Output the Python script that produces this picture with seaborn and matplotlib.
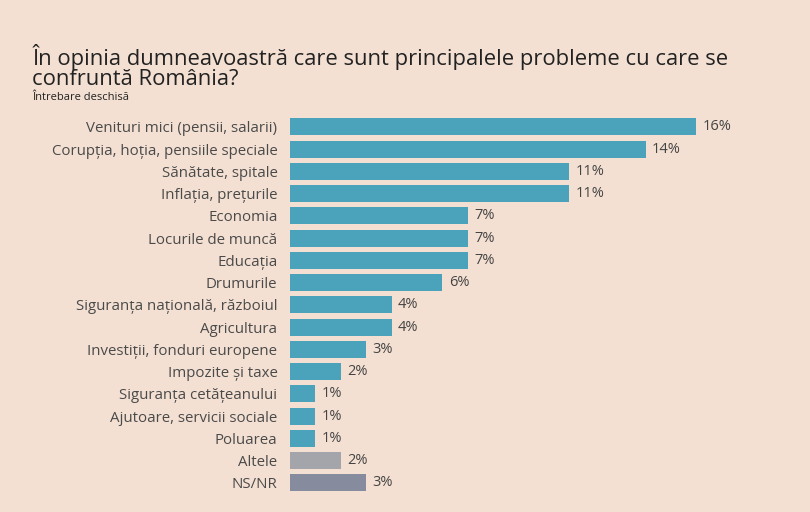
import matplotlib
matplotlib.use("Agg")
import matplotlib.pyplot as plt
import seaborn as sns
import pandas as pd

# ── Data ──────────────────────────────────────────────────────────────────────

categories = [
    "Venituri mici (pensii, salarii)",
    "Corupția, hoția, pensiile speciale",
    "Sănătate, spitale",
    "Inflația, prețurile",
    "Economia",
    "Locurile de muncă",
    "Educația",
    "Drumurile",
    "Siguranța națională, războiul",
    "Agricultura",
    "Investiții, fonduri europene",
    "Impozite și taxe",
    "Siguranța cetățeanului",
    "Ajutoare, servicii sociale",
    "Poluarea",
    "Altele",
    "NS/NR",
]
values = [16, 14, 11, 11, 7, 7, 7, 6, 4, 4, 3, 2, 1, 1, 1, 2, 3]

title_lines = ["În opinia dumneavoastră care sunt principalele probleme cu care se",
               "confruntă România?"]
subtitle = "Întrebare deschisă"

# ── Style ─────────────────────────────────────────────────────────────────────

bg = "#f3e0d2"
teal = "#4aa3ba"
colors = [teal] * 15 + ["#a4a4ab", "#868c9d"]

sns.set_theme(style="white")
plt.rcParams["font.family"] = ["Open Sans", "DejaVu Sans"]

df = pd.DataFrame({"cat": categories, "val": values})

fig = plt.figure(figsize=(8.1, 5.12), dpi=100, facecolor=bg)
ax = fig.add_axes([0.358, 0.035, 0.55, 0.739])
ax.set_facecolor(bg)

sns.barplot(data=df, x="val", y="cat", hue="cat", palette=colors,
            legend=False, width=0.76, ax=ax, saturation=1, linewidth=0)

for i, v in enumerate(values):
    ax.text(v + 0.25, i, f"{v}%", va="center", ha="left",
            fontsize=10.5, color="#444444")

ax.set_xlim(0, 17.54)
ax.set_ylim(16.5, -0.5)
ax.set_xlabel("")
ax.set_ylabel("")
ax.set_xticks([])
ax.tick_params(axis="y", length=0, pad=9, labelsize=10.8, labelcolor="#4a4a4a")
sns.despine(ax=ax, left=True, bottom=True)

# title, two lines, baselines at ~65px and ~85px from top
for line, ypx in zip(title_lines, [65, 85]):
    fig.text(0.04, 1 - ypx / 512, line, fontsize=15.8, color="#222222",
             va="baseline", ha="left")
fig.text(0.04, 1 - 100 / 512, subtitle, fontsize=8, color="#222222",
         va="baseline", ha="left")

fig.savefig("out.png", dpi=100, facecolor=bg)
